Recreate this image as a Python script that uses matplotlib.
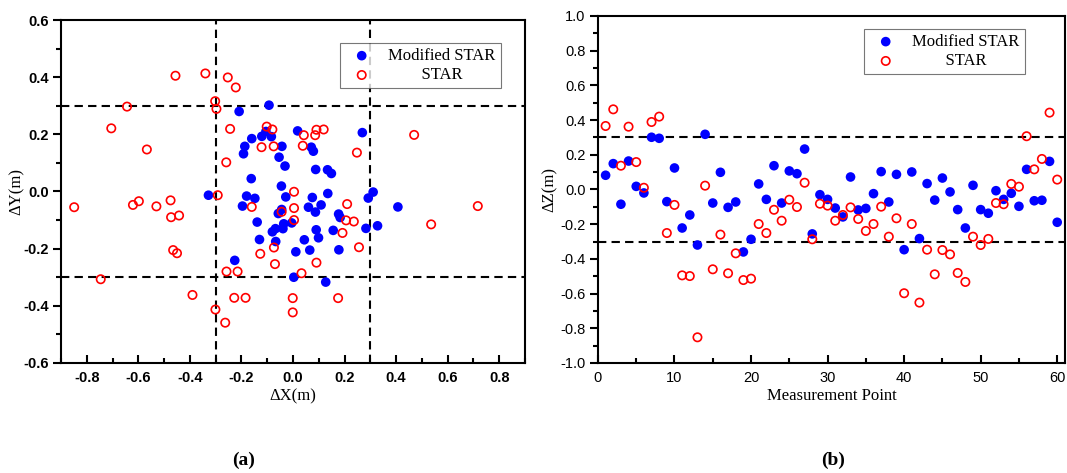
import numpy as np
import matplotlib.pyplot as plt
from matplotlib.ticker import MultipleLocator

# (a) horizontal errors, dX / dY in metres
mod_dx = [-0.209, -0.093, -0.160, -0.187, -0.192, -0.121, -0.162, -0.328, -0.180, -0.148,
          -0.084, 0.018, 0.269, -0.043, 0.071, 0.079, -0.054, -0.031, 0.088, 0.134,
          0.149, -0.045, -0.028, 0.075, 0.135, 0.311, 0.292, -0.196, -0.139, -0.130,
          -0.226, 0.060, 0.109, 0.087, 0.177, 0.183, -0.044, -0.057, -0.036, -0.039,
          -0.068, -0.080, -0.067, 0.090, 0.099, 0.044, 0.156, 0.011, 0.065, 0.178,
          0.283, 0.328, 0.407, 0.003, 0.127, -0.105, -0.005]
mod_dy = [0.280, 0.302, 0.185, 0.158, 0.132, 0.193, 0.045, -0.013, -0.016, -0.024,
          0.192, 0.212, 0.206, 0.158, 0.155, 0.141, 0.120, 0.089, 0.077, 0.076,
          0.063, 0.019, -0.019, -0.021, -0.007, -0.002, -0.023, -0.051, -0.107, -0.168,
          -0.241, -0.055, -0.047, -0.072, -0.079, -0.091, -0.063, -0.077, -0.113, -0.130,
          -0.130, -0.141, -0.175, -0.134, -0.162, -0.169, -0.136, -0.211, -0.205, -0.204,
          -0.129, -0.120, -0.054, -0.300, -0.317, 0.210, -0.110]

star_dx = [-0.456, -0.340, -0.253, -0.222, -0.644, -0.302, -0.297, -0.705, -0.244, -0.567,
           -0.259, -0.122, -0.102, -0.292, -0.080, 0.042, 0.091, 0.086, 0.119, -0.075,
           0.038, 0.248, 0.470, 0.004, -0.849, -0.621, -0.598, -0.530, -0.475, -0.473,
           -0.442, -0.465, -0.450, -0.746, -0.390, -0.160, -0.127, -0.258, -0.215, -0.228,
           -0.184, -0.301, -0.263, 0.210, 0.004, -0.044, 0.004, 0.206, 0.236, 0.192,
           0.256, -0.074, -0.070, 0.091, 0.033, -0.001, 0.175, -0.001, 0.536, 0.717]
star_dy = [0.405, 0.413, 0.399, 0.364, 0.297, 0.316, 0.289, 0.221, 0.219, 0.147,
           0.102, 0.155, 0.227, -0.013, 0.217, 0.197, 0.216, 0.197, 0.217, 0.158,
           0.160, 0.136, 0.198, -0.001, -0.055, -0.047, -0.034, -0.052, -0.031, -0.090,
           -0.084, -0.205, -0.216, -0.307, -0.362, -0.054, -0.218, -0.280, -0.280, -0.372,
           -0.372, -0.413, -0.459, -0.044, -0.058, -0.071, -0.100, -0.101, -0.105, -0.145,
           -0.195, -0.196, -0.254, -0.249, -0.286, -0.373, -0.373, -0.423, -0.115, -0.051]

# (b) vertical errors per measurement point
points = np.arange(1, 61)
mod_dz = [0.082, 0.149, -0.085, 0.164, 0.018, -0.020, 0.301, 0.295, -0.070, 0.124,
          -0.222, -0.147, -0.320, 0.318, -0.078, 0.099, -0.103, -0.072, -0.360, -0.287,
          0.032, -0.057, 0.137, -0.078, 0.107, 0.091, 0.233, -0.256, -0.030, -0.057,
          -0.107, -0.158, 0.072, -0.118, -0.109, -0.024, 0.103, -0.072, 0.087, -0.347,
          0.101, -0.283, 0.034, -0.061, 0.066, -0.014, -0.116, -0.222, 0.024, -0.116,
          -0.137, -0.007, -0.057, -0.022, -0.097, 0.116, -0.065, -0.062, 0.162, -0.189]
star_dz = [0.366, 0.462, 0.137, 0.362, 0.158, 0.010, 0.389, 0.420, -0.251, -0.089,
           -0.495, -0.499, -0.852, 0.022, -0.460, -0.260, -0.483, -0.368, -0.522, -0.514,
           -0.199, -0.251, -0.117, -0.180, -0.059, -0.101, 0.039, -0.287, -0.082, -0.093,
           -0.180, -0.147, -0.103, -0.170, -0.239, -0.199, -0.099, -0.272, -0.166, -0.598,
           -0.199, -0.652, -0.347, -0.489, -0.349, -0.374, -0.481, -0.533, -0.272, -0.320,
           -0.285, -0.078, -0.085, 0.032, 0.016, 0.307, 0.116, 0.176, 0.443, 0.057]

series_names = ['Modified STAR', 'STAR']

tick_font = 'Liberation Sans'
label_font = 'Liberation Serif'

fig = plt.figure(figsize=(10.67, 4.73), dpi=100)
ax1 = fig.add_axes([0.0572, 0.2326, 0.4348, 0.7251])
ax2 = fig.add_axes([0.5604, 0.2326, 0.4376, 0.7336])


def style_axes(ax, bold):
    for s in ax.spines.values():
        s.set_linewidth(1.5)
    ax.tick_params(axis='y', which='major', direction='out', length=6, width=1.5, pad=3)
    ax.tick_params(axis='y', which='minor', direction='out', length=3.5, width=1.5)
    ax.tick_params(axis='x', which='major', direction='in', length=6, width=1.5, pad=6)
    ax.tick_params(axis='x', which='minor', direction='in', length=3.5, width=1.5)
    for lab in ax.get_xticklabels() + ax.get_yticklabels():
        lab.set_fontfamily(tick_font)
        lab.set_fontsize(10.5)
        lab.set_fontweight('bold' if bold else 'normal')


def fmt(vals):
    return ['%.1f' % v if abs(v) > 1e-9 else '0.0' for v in vals]


def add_legend(ax, x0, y0):
    # second entry padded so it sits centred under the first, Origin style
    h, _ = ax.get_legend_handles_labels()
    leg = ax.legend(h, [series_names[0], '\u2007\u2007\u2007\u2007' + series_names[1]],
                    loc='upper left', bbox_to_anchor=(x0, y0), bbox_transform=fig.transFigure,
                    prop={'family': label_font, 'size': 12}, frameon=True, fancybox=False,
                    edgecolor='#555555', handletextpad=0.6, borderpad=0.3,
                    labelspacing=0.2, handlelength=2.0, borderaxespad=0)
    leg.get_frame().set_linewidth(0.8)
    return leg


dash = (0, (4, 2.5))

# ---- (a) ----
ax1.scatter(mod_dx, mod_dy, s=48, color='#0000ff', edgecolors='none', label=series_names[0], zorder=3)
ax1.scatter(star_dx, star_dy, s=36, facecolors='none', edgecolors='#ff0000', linewidths=1.2,
            label=series_names[1], zorder=4)
for v in (-0.3, 0.3):
    ax1.axhline(v, color='black', lw=1.5, ls=dash, zorder=2)
    ax1.axvline(v, color='black', lw=1.5, ls=dash, zorder=2)
ax1.set_xlim(-0.9, 0.9)
ax1.set_ylim(-0.6, 0.6)
ax1.xaxis.set_minor_locator(MultipleLocator(0.1))
ax1.yaxis.set_minor_locator(MultipleLocator(0.1))
xt = np.arange(-0.8, 0.81, 0.2)
yt = np.arange(-0.6, 0.61, 0.2)
ax1.set_xticks(xt)
ax1.set_xticklabels(fmt(xt))
ax1.set_yticks(yt)
ax1.set_yticklabels(fmt(yt))
style_axes(ax1, True)
ax1.set_xlabel('ΔX(m)', fontfamily=label_font, fontsize=12, labelpad=2)
ax1.set_ylabel('ΔY(m)', fontfamily=label_font, fontsize=12)
ax1.yaxis.set_label_coords(-0.078, 0.5)
add_legend(ax1, 0.3187, 0.909)

# ---- (b) ----
ax2.scatter(points, mod_dz, s=48, color='#0000ff', edgecolors='none', label=series_names[0], zorder=3)
ax2.scatter(points, star_dz, s=36, facecolors='none', edgecolors='#ff0000', linewidths=1.2,
            label=series_names[1], zorder=4)
for v in (-0.3, 0.3):
    ax2.axhline(v, color='black', lw=1.5, ls=dash, zorder=2)
ax2.set_xlim(0, 61)
ax2.set_ylim(-1.0, 1.0)
ax2.xaxis.set_major_locator(MultipleLocator(10))
ax2.xaxis.set_minor_locator(MultipleLocator(5))
ax2.yaxis.set_minor_locator(MultipleLocator(0.1))
zt = np.arange(-1.0, 1.01, 0.2)
ax2.set_yticks(zt)
ax2.set_yticklabels(fmt(zt))
style_axes(ax2, False)
ax2.set_xlabel('Measurement Point', fontfamily=label_font, fontsize=12, labelpad=2)
ax2.set_ylabel('ΔZ(m)', fontfamily=label_font, fontsize=12)
ax2.yaxis.set_label_coords(-0.085, 0.5)
add_legend(ax2, 0.8098, 0.9387)

fig.text(0.228, 0.018, '(a)', fontfamily=label_font, fontsize=14, fontweight='bold', ha='center')
fig.text(0.781, 0.018, '(b)', fontfamily=label_font, fontsize=14, fontweight='bold', ha='center')

fig.savefig('out.png', dpi=100)
